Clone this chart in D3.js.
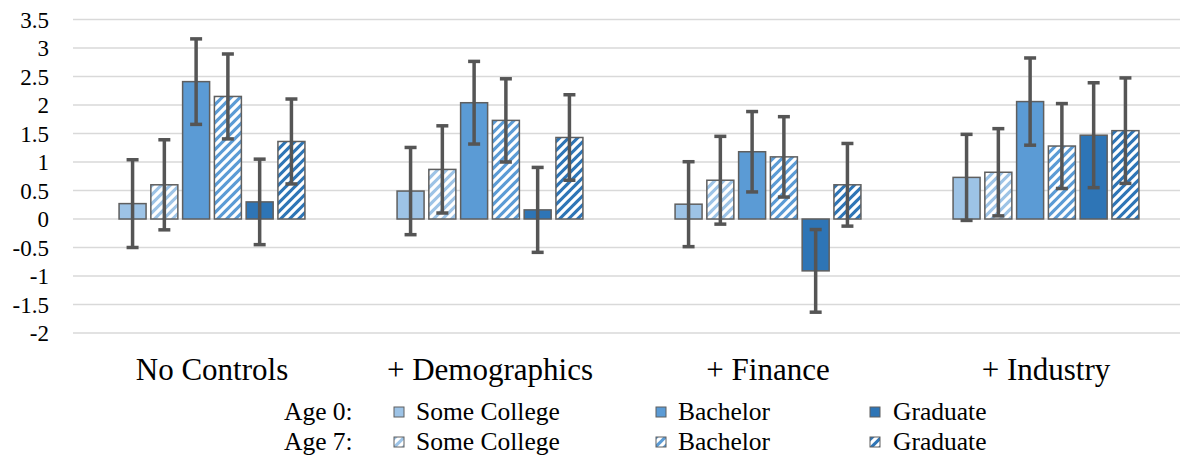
<!DOCTYPE html>
<html>
<head>
<meta charset="utf-8">
<script src="https://cdn.jsdelivr.net/npm/d3@7"></script>
<style>
  html, body { margin: 0; padding: 0; background: #ffffff; }
  svg { display: block; }
  text { font-family: "Liberation Serif", "Times New Roman", "DejaVu Serif", serif; fill: #000; }
</style>
</head>
<body>
<div id="chart"></div>
<script>
// ---- Data ----
const categories = ["No Controls", "+ Demographics", "+ Finance", "+ Industry"];
const seriesNames = ["Age 0: Some College", "Age 7: Some College", "Age 0: Bachelor", "Age 7: Bachelor", "Age 0: Graduate", "Age 7: Graduate"];

const someCollege0 = [0.27, 0.49, 0.26, 0.73];
const someCollege7 = [0.60, 0.87, 0.68, 0.82];
const bachelor0    = [2.41, 2.04, 1.18, 2.06];
const bachelor7    = [2.15, 1.73, 1.09, 1.28];
const graduate0    = [0.30, 0.16, -0.91, 1.47];
const graduate7    = [1.36, 1.43, 0.60, 1.55];

const someCollege0Err = [0.77, 0.765, 0.745, 0.755];
const someCollege7Err = [0.79, 0.765, 0.77, 0.765];
const bachelor0Err    = [0.75, 0.725, 0.705, 0.765];
const bachelor7Err    = [0.745, 0.73, 0.705, 0.745];
const graduate0Err    = [0.75, 0.745, 0.725, 0.92];
const graduate7Err    = [0.745, 0.75, 0.725, 0.925];

const yTicks = [-2, -1.5, -1, -0.5, 0, 0.5, 1, 1.5, 2, 2.5, 3, 3.5];
const legendRows = ["Age 0:", "Age 7:"];
const legendItems = ["Some College", "Bachelor", "Graduate"];

// ---- Build table ----
const seriesValues = [someCollege0, someCollege7, bachelor0, bachelor7, graduate0, graduate7];
const seriesErrors = [someCollege0Err, someCollege7Err, bachelor0Err, bachelor7Err, graduate0Err, graduate7Err];
const levelColors = ["#9dc3e6", "#5b9bd5", "#2e75b6"];
const seriesStyle = seriesNames.map((n, i) => ({ color: levelColors[Math.floor(i / 2)], hatched: i % 2 === 1 }));

const rows = [];
categories.forEach((c, ci) => {
  seriesNames.forEach((s, si) => {
    rows.push({ cat: c, series: s, si, value: seriesValues[si][ci], err: seriesErrors[si][ci] });
  });
});

// ---- Layout ----
const W = 1180, H = 457;
const plotLeft = 73, plotRight = 1185, yTop = 19.5, yBottom = 333;

const svg = d3.select("#chart").append("svg").attr("width", W).attr("height", H);

const defs = svg.append("defs");
const T = 9;
seriesStyle.forEach((st, i) => {
  if (!st.hatched) return;
  const p = defs.append("pattern")
    .attr("id", "hatch" + i)
    .attr("patternUnits", "userSpaceOnUse")
    .attr("width", T).attr("height", T);
  p.append("rect").attr("width", T).attr("height", T).attr("fill", st.color);
  p.append("path")
    .attr("d", `M-2,2 L2,-2 M0,${T} L${T},0 M${T-2},${T+2} L${T+2},${T-2}`)
    .attr("stroke", "#ffffff").attr("stroke-width", 3.3);
});
const fillFor = i => seriesStyle[i].hatched ? `url(#hatch${i})` : seriesStyle[i].color;

const x0 = d3.scaleBand().domain(categories).range([plotLeft, plotRight]).padding(0);
const x1 = d3.scaleBand().domain(seriesNames).range([0, x0.bandwidth()])
  .paddingInner(0.15).paddingOuter(1.45);
const y = d3.scaleLinear().domain([-2, 3.5]).range([yBottom, yTop]);

// gridlines
svg.append("g").selectAll("line").data(yTicks).join("line")
  .attr("x1", plotLeft).attr("x2", plotRight)
  .attr("y1", d => y(d)).attr("y2", d => y(d))
  .attr("stroke", "#d9d9d9").attr("stroke-width", 1.3);

// y axis labels
const yAxis = d3.axisLeft(y).tickValues(yTicks).tickFormat(d => String(d)).tickSize(0).tickPadding(0);
const ya = svg.append("g").attr("transform", `translate(49,0)`).call(yAxis);
ya.attr("font-family", null);
ya.select(".domain").remove();
ya.selectAll("text")
  .attr("font-size", 23).attr("fill", "#000").attr("dy", "0.33em");

// bars
svg.append("g").selectAll("rect").data(rows).join("rect")
  .attr("x", d => x0(d.cat) + x1(d.series))
  .attr("width", x1.bandwidth())
  .attr("y", d => y(Math.max(0, d.value)))
  .attr("height", d => Math.abs(y(d.value) - y(0)))
  .attr("fill", d => fillFor(d.si))
  .attr("stroke", "#5f5f5f").attr("stroke-width", 1.5);

// error bars
const eg = svg.append("g").attr("stroke", "#555555").attr("stroke-width", 3.5);
const cx = d => x0(d.cat) + x1(d.series) + x1.bandwidth() / 2;
eg.selectAll("line.v").data(rows).join("line").attr("class", "v")
  .attr("x1", cx).attr("x2", cx)
  .attr("y1", d => y(d.value + d.err)).attr("y2", d => y(d.value - d.err));
eg.selectAll("line.t").data(rows).join("line").attr("class", "t")
  .attr("x1", d => cx(d) - 6).attr("x2", d => cx(d) + 6)
  .attr("y1", d => y(d.value + d.err)).attr("y2", d => y(d.value + d.err));
eg.selectAll("line.b").data(rows).join("line").attr("class", "b")
  .attr("x1", d => cx(d) - 6).attr("x2", d => cx(d) + 6)
  .attr("y1", d => y(d.value - d.err)).attr("y2", d => y(d.value - d.err));

// category labels
svg.append("g").selectAll("text").data(categories).join("text")
  .attr("x", d => x0(d) + x0.bandwidth() / 2)
  .attr("y", 380)
  .attr("text-anchor", "middle")
  .attr("font-size", 31)
  .text(d => d);

// legend
const legX = [394, 656, 870];
const legTextX = [416, 678, 893];
const legRowY = [420, 450];
const lg = svg.append("g");
legendRows.forEach((r, ri) => {
  lg.append("text").attr("x", 284).attr("y", legRowY[ri]).attr("font-size", 25.5).text(r);
  legendItems.forEach((it, ii) => {
    const si = ii * 2 + ri;
    lg.append("rect")
      .attr("x", legX[ii]).attr("y", legRowY[ri] - 13)
      .attr("width", 10).attr("height", 10)
      .attr("fill", fillFor(si))
      .attr("stroke", "#5f5f5f").attr("stroke-width", 1);
    lg.append("text").attr("x", legTextX[ii]).attr("y", legRowY[ri]).attr("font-size", 25.5).text(it);
  });
});
</script>
</body>
</html>
